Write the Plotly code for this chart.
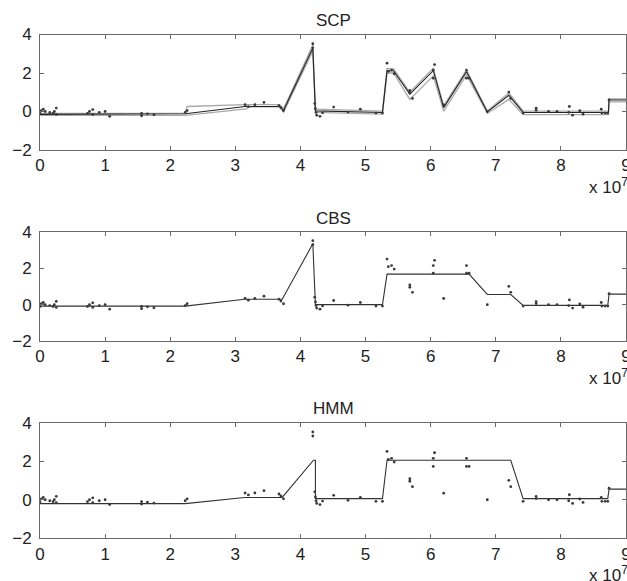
import plotly.graph_objects as go

# Probe positions (units of 1e7 bp) and log-ratio values, shared by all three panels
position = [0.00, 0.02, 0.05, 0.08, 0.15, 0.20, 0.22, 0.25, 0.25,
            0.73, 0.76, 0.81, 0.81, 0.91, 1.00, 1.07,
            1.56, 1.56, 1.65, 1.75, 2.23, 2.26,
            3.15, 3.20, 3.30, 3.44, 3.67, 3.70, 3.74,
            4.19, 4.19, 4.22, 4.23, 4.24, 4.25, 4.30, 4.34,
            4.51, 4.73, 4.92, 5.16, 5.26,
            5.33, 5.35, 5.40, 5.44, 5.68, 5.68, 5.72,
            6.04, 6.06, 6.04, 6.20, 6.55, 6.55, 6.59,
            6.87, 7.20, 7.23, 7.42, 7.62, 7.62, 7.81, 7.94,
            8.13, 8.12, 8.18, 8.29, 8.34, 8.62, 8.63, 8.68, 8.72, 8.74]
log_ratio = [-0.10, 0.05, 0.12, 0.00, -0.05, -0.10, 0.00, 0.18, -0.15,
             -0.10, 0.00, 0.10, -0.15, -0.05, 0.00, -0.25,
             -0.10, -0.22, -0.12, -0.17, -0.05, 0.05,
             0.35, 0.25, 0.35, 0.47, 0.30, 0.20, 0.05,
             3.52, 3.31, 0.41, 0.15, -0.05, -0.19, -0.25, -0.07,
             0.23, -0.03, 0.12, -0.08, -0.08,
             2.51, 2.09, 2.15, 1.96, 1.09, 0.96, 0.68,
             2.15, 2.44, 1.73, 0.34, 2.15, 1.73, 1.73,
             0.00, 1.01, 0.68, -0.08, 0.17, 0.06, 0.00, 0.00,
             0.26, -0.05, -0.19, 0.04, -0.14, 0.12, -0.08, -0.08, -0.08, 0.60]

# SCP estimate with its upper and lower bands
scp_x = [0, 2.23, 3.15, 3.68, 3.74, 4.19, 4.23, 5.26, 5.33, 5.43, 5.68,
         6.04, 6.20, 6.55, 6.87, 7.20, 7.42, 8.73, 8.74, 9.0]
scp_y = [-0.15, -0.12, 0.26, 0.26, 0.05, 3.30, 0.03, -0.05, 2.12, 2.12, 0.90,
         2.12, 0.20, 2.07, -0.02, 0.84, -0.05, -0.05, 0.60, 0.60]
scp_hi_x = [0, 2.23, 2.26, 3.15, 3.68, 3.74, 4.19, 4.23, 5.26, 5.33, 5.43, 5.68,
            6.04, 6.20, 6.55, 6.87, 7.20, 7.42, 8.73, 8.74, 9.0]
scp_hi_y = [-0.10, -0.08, 0.26, 0.36, 0.36, 0.14, 3.45, 0.12, 0.02, 2.24, 2.22, 1.00,
            2.24, 0.30, 2.17, 0.02, 0.96, 0.02, 0.02, 0.66, 0.66]
scp_lo_x = [0, 2.23, 3.17, 3.20, 3.68, 3.74, 4.19, 4.23, 5.26, 5.33, 5.43, 5.68,
            6.04, 6.20, 6.55, 6.87, 7.20, 7.42, 8.73, 8.74, 9.0]
scp_lo_y = [-0.20, -0.20, 0.14, 0.24, 0.24, -0.04, 3.15, -0.05, -0.14, 2.00, 2.00, 0.63,
            1.85, 0.02, 1.90, -0.10, 0.63, -0.16, -0.16, 0.50, 0.50]

# CBS segmentation
cbs_x = [0, 2.23, 3.14, 3.72, 4.19, 4.23, 5.26, 5.33, 6.59, 6.87, 7.23, 7.42, 8.72, 8.74, 9.0]
cbs_y = [-0.08, -0.08, 0.30, 0.30, 3.35, 0.00, 0.00, 1.68, 1.68, 0.56, 0.56, -0.04, -0.04, 0.58, 0.58]

# HMM segmentation
hmm_x = [0, 2.23, 3.14, 3.72, 4.20, 4.23, 4.23, 5.26, 5.33, 7.23, 7.42, 8.72, 8.74, 9.0]
hmm_y = [-0.20, -0.20, 0.12, 0.12, 2.05, 2.05, 0.06, 0.06, 2.05, 2.05, 0.06, 0.06, 0.55, 0.55]

panel_titles = ["SCP", "CBS", "HMM"]
x_ticks = [0, 1, 2, 3, 4, 5, 6, 7, 8, 9]
y_ticks = [-2, 0, 2, 4]

W, H = 627, 581
FONT = "Liberation Sans, Arial, Helvetica, sans-serif"
# panel boxes in pixels: (top, bottom)
boxes = [(34.5, 150.0), (232.0, 341.0), (422.7, 538.3)]
x_left, x_right = 40.0, 626.0

fig = go.Figure()

line_sets = [
    [(scp_lo_x, scp_lo_y, "#a8a8a8", 1.3), (scp_hi_x, scp_hi_y, "#a8a8a8", 1.3),
     (scp_x, scp_y, "#222222", 1.1)],
    [(cbs_x, cbs_y, "#333333", 1.1)],
    [(hmm_x, hmm_y, "#333333", 1.1)],
]

for i, lines in enumerate(line_sets):
    suffix = "" if i == 0 else str(i + 1)
    for lx, ly, col, w in lines:
        fig.add_trace(go.Scatter(x=lx, y=ly, mode="lines",
                                 line=dict(color=col, width=w),
                                 xaxis="x" + suffix, yaxis="y" + suffix,
                                 showlegend=False, hoverinfo="skip"))
    fig.add_trace(go.Scatter(x=position, y=log_ratio, mode="markers",
                             marker=dict(color="#3a3a3a", size=2.8),
                             xaxis="x" + suffix, yaxis="y" + suffix,
                             showlegend=False))

axis_common = dict(showgrid=False, zeroline=False, showline=True, mirror="ticks",
                   linecolor="#6a6a6a", linewidth=1, ticks="inside", ticklen=4,
                   tickcolor="#6a6a6a", tickwidth=1, automargin=False,
                   ticklabeloverflow="allow",
                   tickfont=dict(family=FONT, size=17, color="#222222"))

annotations = []
for i, (top, bot) in enumerate(boxes):
    suffix = "" if i == 0 else str(i + 1)
    y0 = 1 - bot / H
    y1 = 1 - top / H
    fig.layout["xaxis" + suffix] = dict(
        axis_common, domain=[x_left / W, x_right / W], range=[0, 9],
        tickvals=x_ticks, ticktext=[str(t) for t in x_ticks],
        anchor="y" + suffix, ticklabelstandoff=0)
    fig.layout["yaxis" + suffix] = dict(
        axis_common, domain=[y0, y1], range=[-2, 4],
        tickvals=y_ticks, ticktext=["\u22122", "0", "2", "4"],
        anchor="x" + suffix, ticklabelstandoff=4)
    annotations.append(dict(text=panel_titles[i], xref="paper", yref="paper",
                            x=(x_left + x_right) / 2 / W, y=1 - (top - 14) / H,
                            xanchor="center", yanchor="middle", showarrow=False,
                            font=dict(family=FONT, size=17, color="#222222")))
    annotations.append(dict(text="x 10<sup>7</sup>", xref="paper", yref="paper",
                            x=587 / W, y=1 - (bot + 36) / H,
                            xanchor="left", yanchor="middle", showarrow=False,
                            font=dict(family=FONT, size=17, color="#222222")))

fig.update_layout(template="none", width=W, height=H,
                  margin=dict(l=0, r=0, t=0, b=0, autoexpand=False),
                  paper_bgcolor="white", plot_bgcolor="white",
                  annotations=annotations, showlegend=False)

fig.write_html("out.html")
